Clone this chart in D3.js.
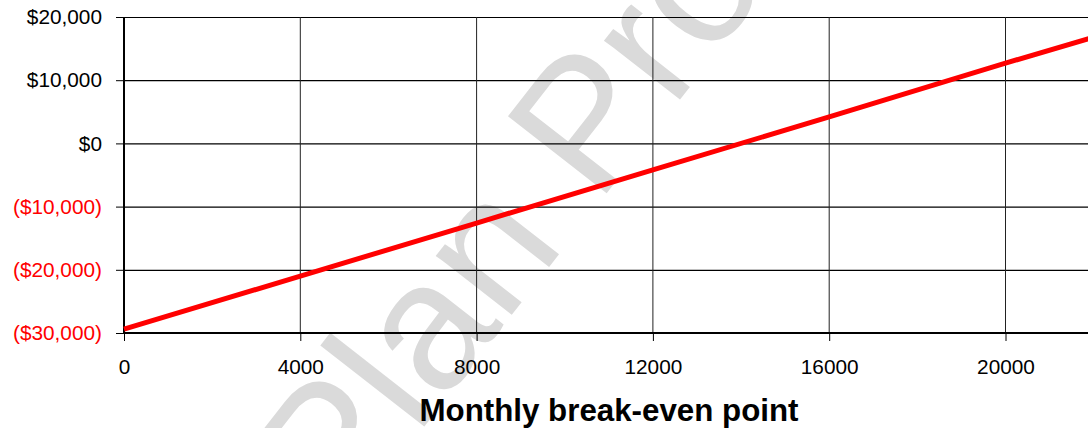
<!DOCTYPE html>
<html>
<head>
<meta charset="utf-8">
<script src="https://cdn.jsdelivr.net/npm/d3@7"></script>
<style>
  body { margin: 0; background: #fff; }
  text { font-family: "Liberation Sans", Arial, sans-serif; }
</style>
</head>
<body>
<div id="chart"></div>
<script>
// units sold per month vs. monthly profit
const units = [0, 4000, 8000, 12000, 16000, 20000, 22000];
const profit = [-29400, -21000, -12600, -4200, 4200, 12700, 16800];
const xTicks = [0, 4000, 8000, 12000, 16000, 20000];
const yTicks = [-30000, -20000, -10000, 0, 10000, 20000];
const xTitle = 'Monthly break-even point';
const watermark = 'Plan Pro';

const width = 1088;
const height = 428;
const margin = { top: 17, left: 124, bottom: 95 };

const x = d3.scaleLinear()
  .domain([0, 22000])
  .range([margin.left, margin.left + 22000 / 4000 * 176.3]);
const y = d3.scaleLinear()
  .domain([-30000, 20000])
  .range([height - margin.bottom, margin.top]);

const svg = d3.select('#chart').append('svg')
  .attr('width', width)
  .attr('height', height);

// watermark sits under everything
svg.append('text')
  .attr('transform', 'translate(342,532) rotate(-52)')
  .attr('fill', '#dadada')
  .style('font-size', '182px')
  .text(watermark);

const fmt = (v) => {
  const s = `$${d3.format(',')(Math.abs(v))}`;
  return v < 0 ? `(${s})` : s;
};

// horizontal grid + y axis
const yAxis = svg.append('g')
  .attr('transform', `translate(${margin.left},0)`)
  .call(d3.axisLeft(y).tickValues(yTicks).tickSize(8).tickPadding(14).tickFormat(fmt));
yAxis.select('.domain').remove();
yAxis.selectAll('.tick line').attr('stroke', '#000');
yAxis.selectAll('.tick text')
  .style('font-size', '20.8px')
  .attr('fill', d => (d < 0 ? '#ff0000' : '#000'));

svg.append('g')
  .selectAll('line')
  .data(yTicks)
  .enter().append('line')
  .attr('x1', margin.left)
  .attr('x2', width)
  .attr('y1', d => y(d) + 0.5)
  .attr('y2', d => y(d) + 0.5)
  .attr('stroke', '#000')
  .attr('stroke-width', 1.2);

// vertical grid
svg.append('g')
  .selectAll('line')
  .data(xTicks.slice(1))
  .enter().append('line')
  .attr('x1', d => x(d))
  .attr('x2', d => x(d))
  .attr('y1', y(20000))
  .attr('y2', y(-30000))
  .attr('stroke', '#222')
  .attr('stroke-width', 1);

// x axis
const xAxis = svg.append('g')
  .attr('transform', `translate(0,${y(-30000)})`)
  .call(d3.axisBottom(x).tickValues(xTicks).tickSize(8).tickPadding(18).tickFormat(d3.format('d')));
xAxis.select('.domain').remove();
xAxis.selectAll('.tick line').attr('stroke', '#000');
xAxis.selectAll('.tick text').style('font-size', '20.8px').attr('fill', '#000');

// axis lines
svg.append('line')
  .attr('x1', margin.left).attr('x2', width)
  .attr('y1', y(-30000)).attr('y2', y(-30000))
  .attr('stroke', '#000').attr('stroke-width', 2);
svg.append('line')
  .attr('x1', margin.left).attr('x2', margin.left)
  .attr('y1', y(20000)).attr('y2', y(-30000))
  .attr('stroke', '#000').attr('stroke-width', 2);

// profit line
const line = d3.line()
  .x((d, i) => x(units[i]))
  .y(d => y(d));
svg.append('path')
  .datum(profit)
  .attr('fill', 'none')
  .attr('stroke', '#ff0000')
  .attr('stroke-width', 5)
  .attr('d', line);

svg.append('text')
  .attr('x', 609)
  .attr('y', 421)
  .attr('text-anchor', 'middle')
  .style('font-size', '31.3px')
  .style('font-weight', 'bold')
  .text(xTitle);
</script>
</body>
</html>
